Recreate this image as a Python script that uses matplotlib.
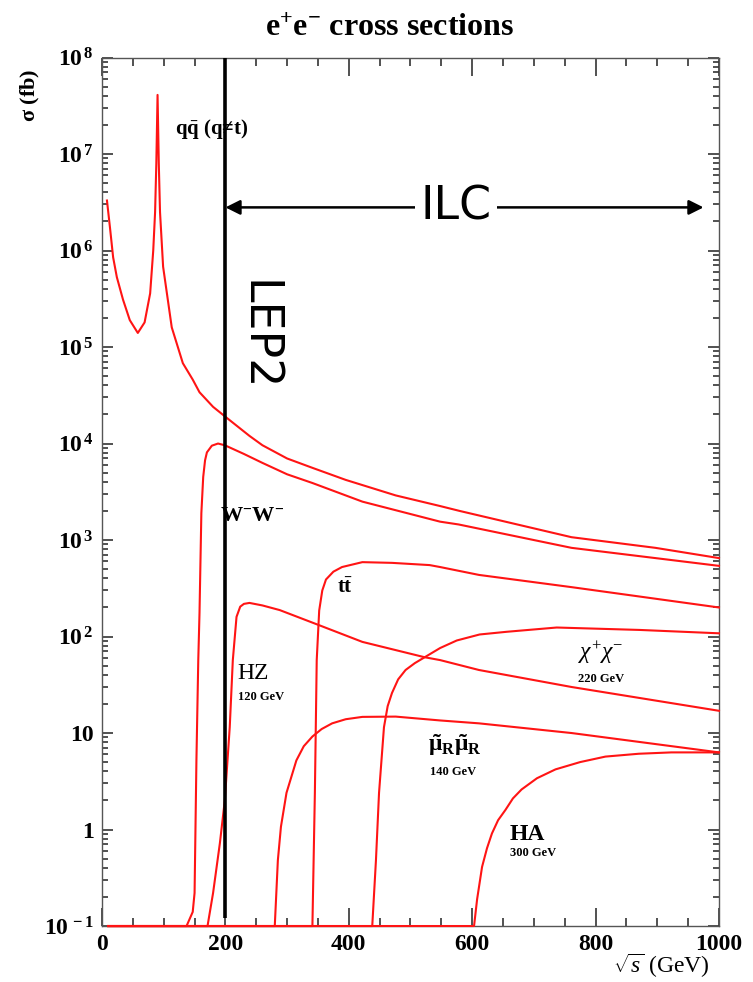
import numpy as np
import matplotlib
matplotlib.use("Agg")
import matplotlib.pyplot as plt
from matplotlib.ticker import MultipleLocator, LogLocator, NullFormatter

plt.rcParams["font.family"] = ["Liberation Serif", "DejaVu Serif"]
plt.rcParams["mathtext.fontset"] = "custom"
plt.rcParams["mathtext.rm"] = "Liberation Serif"
plt.rcParams["mathtext.it"] = "Liberation Serif:italic"
plt.rcParams["mathtext.bf"] = "Liberation Serif:bold"

# sqrt(s) in GeV, cross sections in fb
qq_x = [8, 13, 18, 24, 34, 45, 58, 69, 78, 83, 86, 88, 90, 92, 94, 99, 113, 131,
        147, 158, 180, 202, 239, 260, 300, 341, 395, 476, 548, 580, 761, 897,
        1000]
qq_y = [3.3e6, 1.7e6, 8.5e5, 5.3e5, 3.1e5, 1.9e5, 1.4e5, 1.8e5, 3.6e5, 1.0e6,
        2.5e6, 8.0e6, 4.1e7, 8.0e6, 2.5e6, 6.8e5, 1.6e5, 6.8e4, 4.6e4, 3.4e4,
        2.4e4, 1.85e4, 1.2e4, 9.6e3, 7.0e3, 5.6e3, 4.2e3, 2.9e3, 2.25e3, 2.0e3,
        1.07e3, 830, 650]

ww_x = [10, 137, 147, 150, 153, 156, 158, 161, 164, 167, 170, 178, 188, 199,
        230, 260, 300, 341, 422, 548, 578, 761, 1000]
ww_y = [0.1, 0.1, 0.14, 0.22, 5.2, 57, 175, 1.9e3, 4.5e3, 6.7e3, 8.1e3, 9.5e3,
        1.0e4, 9.6e3, 7.8e3, 6.3e3, 4.8e3, 3.9e3, 2.5e3, 1.55e3, 1.45e3, 830,
        540]

tt_x = [10, 341, 345, 348, 352, 357, 363, 375, 389, 422, 470, 531, 548, 611,
        761, 1000]
tt_y = [0.1, 0.1, 2.4, 57, 186, 300, 390, 470, 525, 590, 580, 550, 525, 435,
        325, 200]

hz_x = [10, 171, 180, 191, 199, 207, 212, 218, 224, 230, 239, 260, 288, 352,
        422, 523, 548, 611, 761, 1000]
hz_y = [0.1, 0.1, 0.22, 0.72, 2.0, 11.5, 57, 160, 204, 218, 223, 210, 188, 131,
        88, 61, 57, 45, 30, 17]

mumu_x = [10, 280, 285, 290, 299, 315, 327, 341, 356, 373, 395, 422, 476, 548,
          611, 761, 1000]
mumu_y = [0.1, 0.1, 0.48, 1.07, 2.4, 5.2, 7.3, 9.2, 11.0, 12.6, 13.9, 14.7,
          14.8, 13.5, 12.6, 10.0, 6.3]

chi_x = [10, 438, 444, 449, 457, 463, 470, 480, 492, 507, 523, 548, 575, 612,
         656, 737, 872, 1000]
chi_y = [0.1, 0.1, 0.48, 2.4, 11.5, 19, 26, 36, 45, 53, 61, 76, 91, 105, 112,
         124, 117, 108]

ha_x = [10, 603, 608, 616, 624, 632, 642, 654, 666, 680, 705, 735, 775, 816,
        870, 923, 1000]
ha_y = [0.1, 0.1, 0.19, 0.41, 0.64, 0.91, 1.25, 1.6, 2.1, 2.6, 3.4, 4.2, 5.0,
        5.7, 6.1, 6.3, 6.3]

ytick_vals = [1e-1, 1, 1e1, 1e2, 1e3, 1e4, 1e5, 1e6, 1e7, 1e8]
ytick_labels = [r"$\mathbf{10^{\,-1}}$", "1", "10", r"$\mathbf{10^{\,2}}$",
                r"$\mathbf{10^{\,3}}$", r"$\mathbf{10^{\,4}}$",
                r"$\mathbf{10^{\,5}}$", r"$\mathbf{10^{\,6}}$",
                r"$\mathbf{10^{\,7}}$", r"$\mathbf{10^{\,8}}$"]

lep2_energy = 200
ilc_energy = 975
arrow_level = 2.8e6

fig = plt.figure(figsize=(7.53, 9.82), dpi=100)
ax = fig.add_axes([0.1355, 0.057, 0.8193, 0.8844])
ax.set_yscale("log")
ax.set_xlim(0, 1000)
ax.set_ylim(0.1, 1e8)

red = "#ff1414"
for xs, ys in [(qq_x, qq_y), (ww_x, ww_y), (tt_x, tt_y), (hz_x, hz_y),
               (mumu_x, mumu_y), (chi_x, chi_y), (ha_x, ha_y)]:
    ax.plot(xs, ys, color=red, lw=1.5, clip_on=False, zorder=4,
            solid_joinstyle="round")

# axis styling
for sp in ax.spines.values():
    sp.set_color("#555555")
    sp.set_linewidth(1.0)
ax.xaxis.set_major_locator(MultipleLocator(200))
ax.xaxis.set_minor_locator(MultipleLocator(50))
ax.set_yticks(ytick_vals)
ax.set_yticklabels(ytick_labels)
ax.yaxis.set_minor_locator(LogLocator(base=10, subs=np.arange(2, 10), numticks=30))
ax.yaxis.set_minor_formatter(NullFormatter())
ax.tick_params(axis="x", which="major", direction="in", length=13, width=1.2,
               top=True, bottom=True, color="#333333", labelsize=17, pad=6)
ax.tick_params(axis="x", which="minor", direction="in", length=6, width=1.2,
               top=True, bottom=True, color="#333333")
ax.tick_params(axis="y", which="major", direction="in", length=8, width=1.2,
               left=True, right=True, color="#333333", labelsize=17, pad=6)
ax.tick_params(axis="y", which="minor", direction="in", length=4.5, width=1.2,
               left=True, right=True, color="#333333")
for lab in ax.get_xticklabels() + ax.get_yticklabels():
    lab.set_fontweight("bold")

# LEP2 boundary and ILC range
ax.vlines(lep2_energy, 0.12, 1e8, color="black", lw=2.6, zorder=5)
ax.annotate("", xy=(lep2_energy, arrow_level), xytext=(ilc_energy, arrow_level),
            arrowprops=dict(arrowstyle="<|-|>", color="black", lw=1.8,
                            mutation_scale=22, shrinkA=0, shrinkB=0), zorder=5)
ax.text(574, arrow_level, "ILC", fontsize=33, family="DejaVu Sans",
        ha="center", va="center", zorder=6,
        bbox=dict(facecolor="white", edgecolor="none", pad=4))
ax.text(253, 1.3e5, "LEP2", fontsize=33, family="DejaVu Sans", rotation=-90,
        ha="center", va="center", zorder=6)

# process labels
ax.text(118, 1.8e7, r"$\mathbf{q\bar{q}}$ (q≠t)", fontsize=15,
        fontweight="bold", ha="left", va="center")
ax.text(191, 1.74e3, r"$\mathbf{W^{-}W^{-}}$", fontsize=16, ha="left",
        va="center")
ax.text(381, 316, r"$\mathbf{t\bar{t}}$", fontsize=15, ha="left", va="center")
ax.text(220, 41.6, "HZ", fontsize=17, ha="left", va="center")
ax.text(220, 23.6, "120 GeV", fontsize=9, fontweight="bold", ha="left",
        va="center")
ax.text(771, 67.6, r"$\chi^{+}\chi^{-}$", fontsize=17, ha="left", va="center")
ax.text(771, 36, "220 GeV", fontsize=9, fontweight="bold", ha="left",
        va="center")
ax.text(528, 7.5, r"$\mathbf{\tilde{\mu}_R\tilde{\mu}_R}$", fontsize=17,
        ha="left", va="center")
ax.text(531, 3.9, "140 GeV", fontsize=9, fontweight="bold", ha="left",
        va="center")
ax.text(661, 0.88, "HA", fontsize=17, fontweight="bold", ha="left",
        va="center")
ax.text(661, 0.57, "300 GeV", fontsize=9, fontweight="bold", ha="left",
        va="center")

# titles
fig.text(390 / 753, 1 - 28 / 982, r"$\mathbf{e^{+}e^{-}}$ cross sections",
         fontsize=23, fontweight="bold", ha="center", va="center")
fig.text(30 / 753, 1 - 95 / 982, r"$\mathbf{\sigma}$ (fb)", fontsize=16,
         fontweight="bold", rotation=90, ha="center", va="center")
fig.text(661 / 753, 1 - 966 / 982, r"$\sqrt{s}$ (GeV)", fontsize=17,
         ha="center", va="center")

fig.savefig("out.png", dpi=100)
